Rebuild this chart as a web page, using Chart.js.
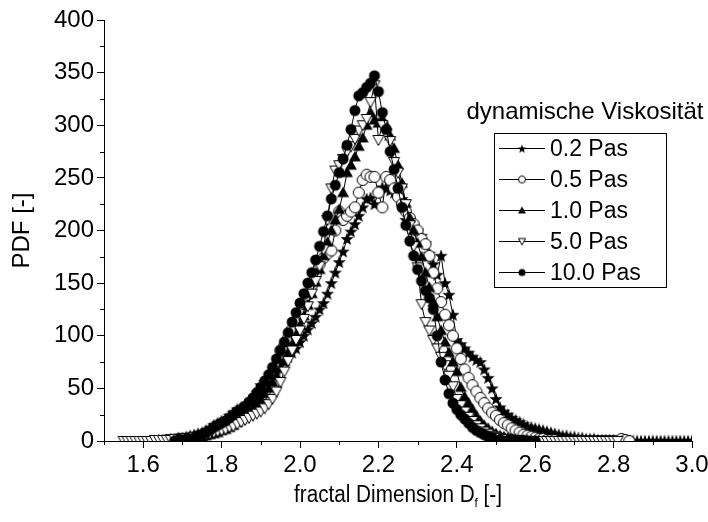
<!DOCTYPE html>
<html>
<head>
<meta charset="utf-8">
<script src="https://cdn.jsdelivr.net/npm/chart.js@4.4.0/dist/chart.umd.min.js"></script>
<style>
    html, body { margin: 0; padding: 0; background: #fff; }
    #wrap { width: 708px; height: 522px; }
</style>
</head>
<body>
<div id="wrap"><canvas id="pdfChart" width="708" height="522"></canvas></div>
<script>
// fractal dimension grid (x)
const dfGrid = [
    1.55,1.56,1.57,1.58,1.59,1.60,1.61,1.62,1.63,1.64,
    1.65,1.66,1.67,1.68,1.69,1.70,1.71,1.72,1.73,1.74,
    1.75,1.76,1.77,1.78,1.79,1.80,1.81,1.82,1.83,1.84,
    1.85,1.86,1.87,1.88,1.89,1.90,1.91,1.92,1.93,1.94,
    1.95,1.96,1.97,1.98,1.99,2.00,2.01,2.02,2.03,2.04,
    2.05,2.06,2.07,2.08,2.09,2.10,2.11,2.12,2.13,2.14,
    2.15,2.16,2.17,2.18,2.19,2.20,2.21,2.22,2.23,2.24,
    2.25,2.26,2.27,2.28,2.29,2.30,2.31,2.32,2.33,2.34,
    2.35,2.36,2.37,2.38,2.39,2.40,2.41,2.42,2.43,2.44,
    2.45,2.46,2.47,2.48,2.49,2.50,2.51,2.52,2.53,2.54,
    2.55,2.56,2.57,2.58,2.59,2.60,2.61,2.62,2.63,2.64,
    2.65,2.66,2.67,2.68,2.69,2.70,2.71,2.72,2.73,2.74,
    2.75,2.76,2.77,2.78,2.79,2.80,2.81,2.82,2.83,2.84,
    2.85,2.86,2.87,2.88,2.89,2.90,2.91,2.92,2.93,2.94,
    2.95,2.96,2.97,2.98,2.99,3.00
];

// PDF values per viscosity, aligned with dfGrid (null = no point)
const pdf02 = [
    null,null,null,null,null,null,null,0,0,1,
    1,1,2,2,3,3,4,5,6,7,
    8,10,12,15,17,19,21,24,27,30,
    32,34,34,36,46,53,56,60,64,68,
    72,76,80,84,88,94,100,106,112,118,
    125,131,140,150,160,170,180,192,199,206,
    214,222,230,231,225,236,241,240,238,236,
    241,230,210,205,202,200,195,188,178,168,
    158,176,150,139,120,96,92,88,84,80,
    77,75,68,60,50,40,32,28,25,22,
    20,18,16,14,13,12,11,10,9,8,
    7,6,5,5,4,4,3,3,2,2,
    2,1,1,1,1,1,0,0,0,0,
    0,0,0,0,0,0,0,0,0,0,
    0,0,0,0,0,0
];
const pdf05 = [
    null,null,null,null,null,null,null,null,null,0,
    0,1,1,1,2,2,2,3,3,4,
    5,6,8,10,12,15,18,20,19,21,
    23,26,29,33,37,42,47,53,60,70,
    86,90,98,106,114,122,130,139,148,158,
    168,174,178,181,200,218,210,214,218,222,
    236,248,253,251,251,236,222,251,248,240,
    232,225,218,212,206,200,192,187,176,160,
    145,132,120,110,100,88,78,68,60,53,
    47,41,36,31,27,24,20,17,15,12,
    10,8,6,5,4,3,2,2,1,1,
    1,0,0,0,0,0,0,0,0,0,
    0,0,0,0,0,0,0,2,1,0,
    null,null,null,null,null,null,null,null,null,null,
    null,null,null,null,null,null
];
const pdf10 = [
    null,null,null,null,null,null,null,null,null,null,
    0,0,1,1,1,2,2,2,3,3,
    4,5,6,7,8,10,11,13,15,18,
    21,24,27,31,35,40,45,50,56,62,
    69,76,84,92,101,110,119,129,140,151,
    163,176,189,200,210,220,236,255,262,270,
    280,288,300,312,305,302,306,300,290,278,
    262,245,226,212,200,188,175,160,146,132,
    118,105,94,84,75,66,51,42,36,30,
    24,19,15,12,9,7,5,4,3,2,
    2,1,1,1,0,0,0,0,0,0,
    0,0,0,0,0,0,0,0,0,0,
    0,0,0,0,0,0,null,null,null,null,
    null,null,null,null,null,null,null,null,null,null,
    null,null,null,null,null,null
];
const pdf50 = [
    0,0,0,0,0,0,0,0,1,1,
    1,1,1,2,2,2,3,3,4,4,
    5,6,7,8,9,10,11,13,14,16,
    18,20,22,24,26,28,31,35,40,47,
    56,66,76,86,96,105,116,128,140,152,
    166,182,210,240,257,262,268,275,280,287,
    295,300,306,322,338,286,300,292,285,265,
    255,240,225,205,185,165,130,113,105,96,
    88,80,72,62,52,40,34,28,23,19,
    15,12,9,7,5,4,3,2,2,1,
    1,1,0,0,0,0,0,0,0,0,
    0,0,0,0,0,0,0,0,0,0,
    0,0,0,0,0,0,0,null,null,null,
    null,null,null,null,null,null,null,null,null,null,
    null,null,null,null,null,null
];
const pdf100 = [
    null,null,null,null,null,null,null,null,null,null,
    null,null,null,0,1,1,2,2,3,5,
    6,8,10,13,15,17,19,22,25,28,
    30,33,37,41,46,51,57,63,70,78,
    86,94,103,113,122,131,140,150,160,172,
    185,199,214,230,243,255,268,281,296,314,
    328,331,336,340,347,332,312,296,275,258,
    240,222,205,190,176,163,152,143,136,125,
    100,75,58,45,36,30,25,21,17,13,
    10,8,6,4,3,1,1,0,0,0,
    0,0,0,0,0,0,null,null,null,null,
    null,null,null,null,null,null,null,null,null,null,
    null,null,null,null,null,null,null,null,null,null,
    null,null,null,null,null,null,null,null,null,null,
    null,null,null,null,null,null
];

const seriesLabels = ['0.2 Pas', '0.5 Pas', '1.0 Pas', '5.0 Pas', '10.0 Pas'];
const seriesValues = [pdf02, pdf05, pdf10, pdf50, pdf100];
const seriesMarkers = ['star', 'circleOpen', 'triangle', 'triangleDown', 'circle'];

const xMajorTicks = [1.6, 1.8, 2.0, 2.2, 2.4, 2.6, 2.8, 3.0];
const xMinorTicks = [1.5, 1.7, 1.9, 2.1, 2.3, 2.5, 2.7, 2.9];
const yMinorTicks = [25, 75, 125, 175, 225, 275, 325, 375];

const legendTitle = 'dynamische Viskosität';
const yTitle = 'PDF [-]';
const xTitleMain = 'fractal Dimension D';
const xTitleSub = 'f';
const xTitleTail = ' [-]';

const FONT = "'Liberation Sans', Arial, sans-serif";

function makeMarker(kind, d) {
    const c = document.createElement('canvas');
    c.width = c.height = d + 4;
    const g = c.getContext('2d');
    const m = c.width / 2, r = d / 2;
    g.lineWidth = 1;
    g.strokeStyle = '#000';
    g.fillStyle = '#000';
    g.beginPath();
    if (kind === 'star') {
        for (let k = 0; k < 10; k++) {
            const rr = k % 2 === 0 ? r * 1.15 : r * 0.48;
            const a = -Math.PI / 2 + k * Math.PI / 5;
            g.lineTo(m + rr * Math.cos(a), m + rr * Math.sin(a) + 0.5);
        }
        g.closePath();
        g.fill();
    } else if (kind === 'circle' || kind === 'circleOpen') {
        g.arc(m, m, r - 0.5, 0, Math.PI * 2);
        if (kind === 'circle') {
            g.fill();
        } else {
            g.fillStyle = '#fff';
            g.fill();
            g.stroke();
        }
    } else if (kind === 'triangle') {
        g.moveTo(m, m - r);
        g.lineTo(m + r, m + r * 0.75);
        g.lineTo(m - r, m + r * 0.75);
        g.closePath();
        g.fill();
    } else if (kind === 'triangleDown') {
        g.moveTo(m - r + 0.5, m - r * 0.75);
        g.lineTo(m + r - 0.5, m - r * 0.75);
        g.lineTo(m, m + r - 0.5);
        g.closePath();
        g.fillStyle = '#fff';
        g.fill();
        g.stroke();
    }
    return c;
}

const plotMarkers = seriesMarkers.map(k => makeMarker(k, 12));
const legendMarkers = seriesMarkers.map(k => makeMarker(k, 8));

const datasets = seriesValues.map((vals, k) => ({
    label: seriesLabels[k],
    data: dfGrid.map((x, i) => ({ x: x, y: vals[i] })).filter(p => p.y !== null),
    showLine: true,
    borderColor: '#000',
    borderWidth: 1,
    backgroundColor: '#000',
    pointStyle: plotMarkers[k],
    pointRadius: 6,
    pointHoverRadius: 6,
    clip: 0,
    order: seriesValues.length - k,
}));

// minor ticks, axis titles and the boxed legend
const decorPlugin = {
    id: 'decor',
    afterDraw(chart) {
        const ctx = chart.ctx;
        const xs = chart.scales.x, ys = chart.scales.y;
        const area = chart.chartArea;
        ctx.save();
        ctx.strokeStyle = '#000';
        ctx.lineWidth = 1;
        ctx.beginPath();
        xMinorTicks.forEach(v => {
            const px = Math.round(xs.getPixelForValue(v)) + 0.5;
            ctx.moveTo(px, area.bottom);
            ctx.lineTo(px, area.bottom + 4);
        });
        yMinorTicks.forEach(v => {
            const py = Math.round(ys.getPixelForValue(v)) + 0.5;
            ctx.moveTo(area.left, py);
            ctx.lineTo(area.left - 4, py);
        });
        ctx.stroke();

        ctx.fillStyle = '#000';
        // y title
        ctx.font = '24px ' + FONT;
        ctx.textAlign = 'center';
        ctx.textBaseline = 'middle';
        ctx.save();
        ctx.translate(22, (area.top + area.bottom) / 2);
        ctx.rotate(-Math.PI / 2);
        ctx.fillText(yTitle, 0, 0);
        ctx.restore();

        // x title with subscript, slightly condensed like the original
        const mainFont = '23px ' + FONT, subFont = '13px ' + FONT;
        const squeeze = 0.9;
        ctx.font = mainFont;
        const w1 = ctx.measureText(xTitleMain).width;
        const w3 = ctx.measureText(xTitleTail).width;
        ctx.font = subFont;
        const w2 = ctx.measureText(xTitleSub).width;
        ctx.save();
        ctx.translate((area.left + area.right) / 2, 502);
        ctx.scale(squeeze, 1);
        ctx.textAlign = 'left';
        ctx.textBaseline = 'alphabetic';
        const tx = -(w1 + w2 + w3) / 2;
        ctx.font = mainFont;
        ctx.fillText(xTitleMain, tx, 0);
        ctx.font = subFont;
        ctx.fillText(xTitleSub, tx + w1, 5);
        ctx.font = mainFont;
        ctx.fillText(xTitleTail, tx + w1 + w2, 0);
        ctx.restore();

        // legend
        const box = { left: 494, top: 133, right: 666, bottom: 287 };
        ctx.font = '24px ' + FONT;
        ctx.textAlign = 'center';
        ctx.textBaseline = 'middle';
        ctx.fillText(legendTitle, 585, 112);
        ctx.fillStyle = '#fff';
        ctx.fillRect(box.left, box.top, box.right - box.left, box.bottom - box.top);
        ctx.strokeRect(box.left + 0.5, box.top + 0.5, box.right - box.left, box.bottom - box.top);
        ctx.fillStyle = '#000';
        ctx.textAlign = 'left';
        ctx.font = '23px ' + FONT;
        const rowH = (box.bottom - box.top) / seriesLabels.length;
        seriesLabels.forEach((lab, k) => {
            const cy = Math.round(box.top + rowH * (k + 0.5)) + 0.5;
            ctx.beginPath();
            ctx.moveTo(499, cy);
            ctx.lineTo(545, cy);
            ctx.stroke();
            const mk = legendMarkers[k];
            ctx.drawImage(mk, 522 - mk.width / 2, cy - mk.height / 2);
            ctx.fillText(lab, 550, cy + 1);
        });
        ctx.restore();
    }
};

Chart.defaults.font.family = FONT;
Chart.defaults.color = '#000';

new Chart(document.getElementById('pdfChart').getContext('2d'), {
    type: 'scatter',
    data: { datasets: datasets },
    options: {
        responsive: false,
        animation: false,
        devicePixelRatio: 1,
        layout: { padding: { left: 0, right: 16, top: 20, bottom: 0 } },
        scales: {
            x: {
                type: 'linear',
                min: 1.5,
                max: 3.0,
                afterBuildTicks: (scale) => { scale.ticks = xMajorTicks.map(v => ({ value: v })); },
                afterFit: (scale) => {
                    scale.height = 81;
                    scale.paddingLeft = 0;
                    scale.paddingRight = 0;
                },
                ticks: {
                    font: { size: 24 },
                    padding: 3,
                    maxRotation: 0,
                    autoSkip: false,
                    callback: (v) => Number(v).toFixed(1),
                },
                grid: { display: true, drawOnChartArea: false, drawTicks: true, tickLength: 7, color: '#000' },
                border: { display: true, color: '#000', width: 1 },
            },
            y: {
                type: 'linear',
                min: 0,
                max: 400,
                afterFit: (scale) => { scale.width = 104; },
                ticks: {
                    stepSize: 50,
                    font: { size: 24 },
                    padding: 3,
                },
                grid: { display: true, drawOnChartArea: false, drawTicks: true, tickLength: 7, color: '#000' },
                border: { display: true, color: '#000', width: 1 },
            },
        },
        plugins: {
            legend: { display: false },
            tooltip: { enabled: false },
        },
    },
    plugins: [decorPlugin],
});
</script>
</body>
</html>
